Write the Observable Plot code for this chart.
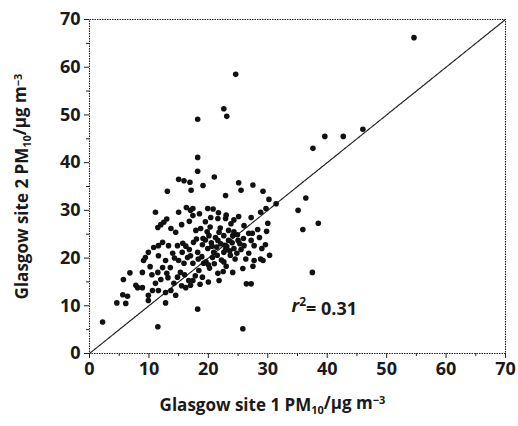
<!DOCTYPE html>
<html>
<head>
<meta charset="utf-8">
<script src="https://cdn.jsdelivr.net/npm/d3@7"></script>
<script src="https://cdn.jsdelivr.net/npm/@observablehq/plot@0.6"></script>
<style>
  html, body { margin: 0; padding: 0; background: #fff; }
</style>
</head>
<body>
<div id="chart"></div>
<script>
// Glasgow site 1 PM10 (x) and Glasgow site 2 PM10 (y), µg m-3
const site1 = [
  54.6, 24.6, 18.2, 22.6, 23.1, 18.2, 18.2, 21.0, 19.1, 15.0, 15.9, 16.9, 17.1, 13.1, 22.9, 25.1, 25.5, 27.5, 29.2, 46.0,
  42.7, 39.6, 37.6, 30.2, 31.4, 36.4, 35.1, 35.9, 38.5, 37.5, 29.7, 28.8, 27.2, 25.1, 22.9, 21.6, 20.4, 19.9, 17.4, 17.4,
  18.2, 25.8, 2.2, 11.5, 26.4, 27.2, 28.8, 27.5, 26.3, 24.5, 24.1, 27.2, 30.0, 4.6, 6.1, 6.4, 5.6, 8.1, 8.9, 5.7,
  6.8, 8.9, 9.9, 9.9, 10.6, 12.8, 14.5, 12.8, 9.1, 9.9, 10.8, 11.6, 12.3, 13.3, 14.8, 15.7, 11.5, 12.5, 13.7, 17.9,
  19.1, 11.1, 15.0, 18.7, 20.1, 21.6, 22.6, 23.4, 24.1, 23.4, 25.0, 26.8, 26.0, 19.9, 17.5, 20.9, 22.6, 24.3, 18.2, 7.8,
  9.4, 11.1, 11.6, 11.5, 12.3, 12.8, 11.6, 14.0, 13.2, 14.2, 13.7, 15.3, 15.9, 15.0, 16.7, 16.5, 17.4, 16.2, 19.2, 17.4,
  18.4, 21.6, 21.8, 20.7, 22.9, 17.0, 27.4, 27.7, 27.7, 29.2, 30.3, 29.6, 29.8, 12.0, 13.0, 14.5, 16.3, 17.0, 16.8, 15.5,
  18.5, 20.8, 21.7, 23.0, 24.3, 22.0, 20.3, 19.5, 18.9, 19.6, 20.2, 21.0, 22.2, 23.0, 23.7, 24.8, 25.5, 25.3, 24.3, 22.8,
  21.4, 20.5, 19.0, 18.0, 16.8, 16.2, 15.6, 14.3, 13.6, 14.8, 16.0, 17.8, 19.0, 20.0, 18.6, 15.5, 13.0, 12.0, 10.5, 10.2,
  21.8, 23.8, 26.0, 28.3, 28.6, 29.0, 26.8, 25.8, 22.5, 19.5, 20.6, 21.2, 22.1, 23.1, 24.0, 21.5, 22.6, 23.6, 20.0, 18.3,
  17.0, 19.8, 24.9, 25.9
];
const site2 = [
  66.2, 58.5, 49.1, 51.3, 49.7, 41.1, 38.2, 37.0, 35.2, 36.5, 36.2, 35.9, 34.2, 34.0, 33.1, 35.8, 34.2, 35.3, 34.0, 47.0,
  45.5, 45.5, 43.0, 32.3, 31.4, 32.6, 30.0, 26.0, 27.3, 17.0, 30.4, 29.6, 28.5, 28.7, 28.3, 28.3, 28.5, 30.4, 30.4, 28.9,
  9.3, 5.2, 6.6, 5.6, 14.6, 14.6, 19.8, 18.3, 19.8, 19.8, 17.0, 23.7, 27.3, 10.6, 10.5, 12.0, 12.3, 13.8, 13.8, 15.5,
  16.9, 17.0, 11.1, 12.2, 13.2, 10.6, 12.2, 12.8, 19.5, 21.2, 22.2, 22.6, 23.3, 22.6, 22.6, 23.1, 26.4, 27.5, 26.2, 25.8,
  24.1, 29.6, 29.6, 26.2, 24.7, 23.7, 24.7, 25.8, 24.7, 23.7, 23.7, 25.2, 22.6, 22.0, 23.3, 21.2, 21.2, 22.0, 21.2, 14.3,
  20.1, 14.7, 13.2, 17.0, 18.0, 19.5, 20.5, 21.0, 15.9, 14.7, 13.2, 17.0, 18.9, 19.5, 15.3, 20.1, 18.9, 13.8, 18.9, 15.3,
  17.4, 16.8, 15.3, 20.1, 21.8, 14.3, 25.2, 22.6, 19.5, 19.5, 20.6, 22.8, 25.6, 27.0, 28.2, 25.4, 30.6, 30.0, 27.7, 27.0,
  29.3, 30.3, 29.5, 29.0, 28.0, 26.3, 26.5, 27.6, 20.3, 19.2, 17.9, 18.8, 19.6, 18.3, 20.6, 21.0, 21.8, 23.0, 25.5, 22.7,
  22.3, 23.2, 22.8, 24.0, 21.8, 22.5, 21.2, 20.0, 18.0, 16.0, 16.5, 16.3, 16.0, 15.0, 14.5, 14.2, 16.8, 15.5, 16.5, 18.2,
  25.4, 27.2, 26.8, 26.0, 24.3, 22.0, 21.0, 17.8, 17.2, 23.8, 22.5, 24.3, 23.0, 22.4, 23.2, 20.6, 19.2, 21.5, 18.6, 19.8,
  20.5, 25.5, 24.9, 24.1
];
const majorTicks = [0, 10, 20, 30, 40, 50, 60, 70];
const minorTicks = [5, 15, 25, 35, 45, 55, 65];
const oneToOne = [0, 70];
const r2Value = "0.31";
const xTitle = ["Glasgow site 1 PM", "10", "/µg m", "−3"];
const yTitle = ["Glasgow site 2 PM", "10", "/µg m", "−3"];

const points = site1.map((x, i) => ({x, y: site2[i]}));
const font = "'Open Sans', 'DejaVu Sans', sans-serif";
const ink = "#1a1a1a";

const chart = Plot.plot({
  width: 518,
  height: 426,
  marginLeft: 89,
  marginTop: 19,
  marginRight: 13,
  marginBottom: 73,
  style: {fontFamily: font, fontSize: "18px", fontWeight: "700", color: ink, background: "#fff"},
  x: {domain: [0, 70]},
  y: {domain: [0, 70]},
  marks: [
    Plot.frame({stroke: "#222", strokeWidth: 1.1, strokeDasharray: "1.5,1"}),
    Plot.axisX({ticks: majorTicks, tickSize: 5, tickPadding: 4, label: null, fontSize: 18, fontWeight: "700", stroke: "#222"}),
    Plot.axisX({ticks: minorTicks, tickSize: 3, tickFormat: () => "", label: null, stroke: "#222"}),
    Plot.axisY({ticks: majorTicks, tickSize: 5, tickPadding: 4, label: null, fontSize: 18, fontWeight: "700", stroke: "#222"}),
    Plot.axisY({ticks: minorTicks, tickSize: 3, tickFormat: () => "", label: null, stroke: "#222"}),
    Plot.line(oneToOne, {x: d => d, y: d => d, stroke: "#222", strokeWidth: 1.2, strokeDasharray: "2,1"}),
    Plot.dot(points, {x: "x", y: "y", r: 2.8, fill: "#111", stroke: "none"}),
    Plot.text(["R2LABEL"], {x: 34, y: 10, textAnchor: "start", fontSize: 18, fontWeight: "700", fill: ink}),
    Plot.text(["XTITLE"], {frameAnchor: "bottom", textAnchor: "middle", dy: 57, dx: -25, fontSize: 17, fontWeight: "700", fill: ink}),
    Plot.text(["YTITLE"], {frameAnchor: "left", textAnchor: "middle", dx: -67, rotate: -90, fontSize: 17, fontWeight: "700", fill: ink})
  ]
});

document.getElementById("chart").appendChild(chart);

function rich(node, parts) {
  const sel = d3.select(node);
  sel.text(null);
  parts.forEach(p => {
    const t = sel.append("tspan").text(p.t);
    if (p.fs) t.attr("font-size", p.fs);
    if (p.dy) t.attr("dy", p.dy);
    if (p.style) t.attr("font-style", p.style);
  });
}
d3.select(chart).selectAll("text").each(function() {
  const c = this.textContent;
  if (c === "XTITLE" || c === "YTITLE") {
    const t = c === "XTITLE" ? xTitle : yTitle;
    rich(this, [
      {t: t[0]},
      {t: t[1], fs: "11", dy: "0.3em"},
      {t: t[2], dy: "-0.3em"},
      {t: t[3], fs: "11", dy: "-0.4em"}
    ]);
  } else if (c === "R2LABEL") {
    rich(this, [
      {t: "r", style: "italic"},
      {t: "2", fs: "12", dy: "-0.5em"},
      {t: "= " + r2Value, dy: "0.5em"}
    ]);
  }
});
</script>
</body>
</html>
